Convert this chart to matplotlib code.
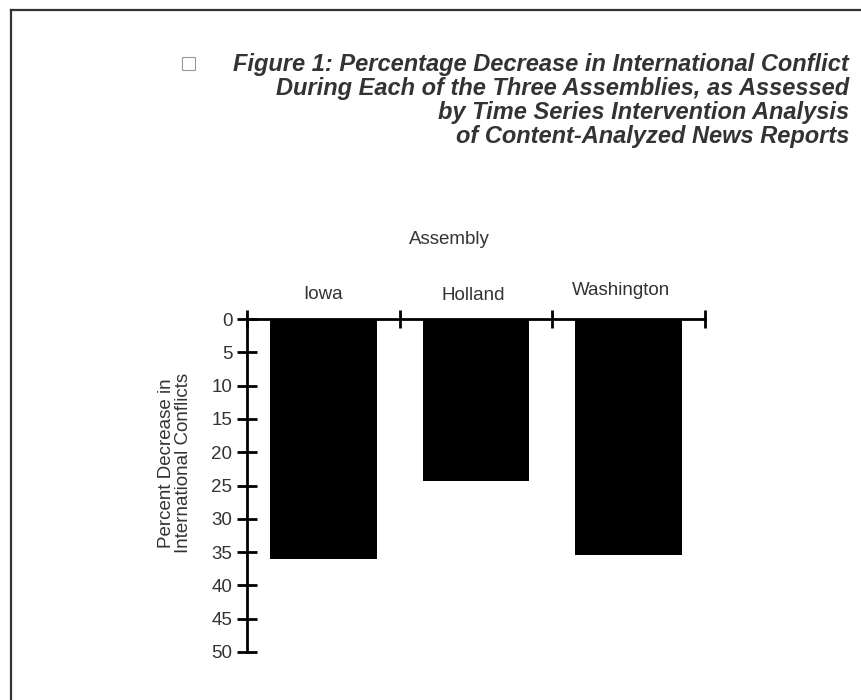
import matplotlib
matplotlib.use("Agg")
import matplotlib.pyplot as plt
from matplotlib.patches import Rectangle
from matplotlib.lines import Line2D

categories = ["Iowa", "Holland", "Washington"]
values = [36.1, 24.3, 35.5]
yticks = [0, 5, 10, 15, 20, 25, 30, 35, 40, 45, 50]
title_lines = [
    "Figure 1: Percentage Decrease in International Conflict",
    "During Each of the Three Assemblies, as Assessed",
    "by Time Series Intervention Analysis",
    "of Content-Analyzed News Reports",
]

plt.rcParams['font.family'] = ['Liberation Sans', 'DejaVu Sans']
W, H = 862, 700
fig = plt.figure(figsize=(W / 100, H / 100), dpi=100)

def fx(px):
    return px / W

def fy(py):
    return 1 - py / H

# outer frame
fig.add_artist(Line2D([fx(11), fx(11)], [fy(10), fy(705)], color="#333333", lw=1.6))
fig.add_artist(Line2D([fx(11), fx(870)], [fy(10), fy(10)], color="#333333", lw=1.6))

# checkbox
fig.add_artist(Rectangle((fx(182), fy(70)), 13 / W, 13 / H, fill=False,
                         edgecolor="#999999", lw=0.8))

# title
ys = [64, 89, 113, 137]
for line, y in zip(title_lines, ys):
    fig.text(fx(849), fy(y), line, ha="right", va="center", fontsize=17,
             fontweight="bold", fontstyle="italic", color="#333333")

ax = fig.add_axes([fx(247), fy(652), 458 / W, 333 / H])
x = list(range(len(categories)))
ax.bar(x, values, width=0.7, color="black")
ax.set_xlim(-0.5, 2.5)
ax.set_ylim(50, 0)

for s in ["right", "bottom"]:
    ax.spines[s].set_visible(False)
for s in ["left", "top"]:
    ax.spines[s].set_linewidth(2)
    ax.spines[s].set_color("black")

ax.set_yticks(yticks)
ax.set_yticklabels([str(t) for t in yticks], fontsize=13.5, color="#333333")
ax.tick_params(axis="y", direction="inout", length=15, width=2, pad=3)

ax.xaxis.tick_top()
ax.set_xticks([-0.5, 0.5, 1.5, 2.5])
ax.set_xticklabels([])
ax.tick_params(axis="x", direction="inout", length=13, width=2, top=True, bottom=False)

label_y = [1.075, 1.072, 1.086]
label_dx = [0.0, -0.02, -0.05]
for xi, name, ly, dx in zip(x, categories, label_y, label_dx):
    ax.text(xi + dx, ly, name, transform=ax.get_xaxis_transform(), ha="center",
            va="center", fontsize=13.5, color="#333333")

fig.text(fx(449), fy(239), "Assembly", ha="center", va="center", fontsize=13.5,
         color="#333333")

fig.text(fx(175), fy(463), "Percent Decrease in\nInternational Conflicts", rotation=90,
         ha="center", va="center", fontsize=13.5, color="#333333", linespacing=1.05)

fig.savefig("out.png", dpi=100)
